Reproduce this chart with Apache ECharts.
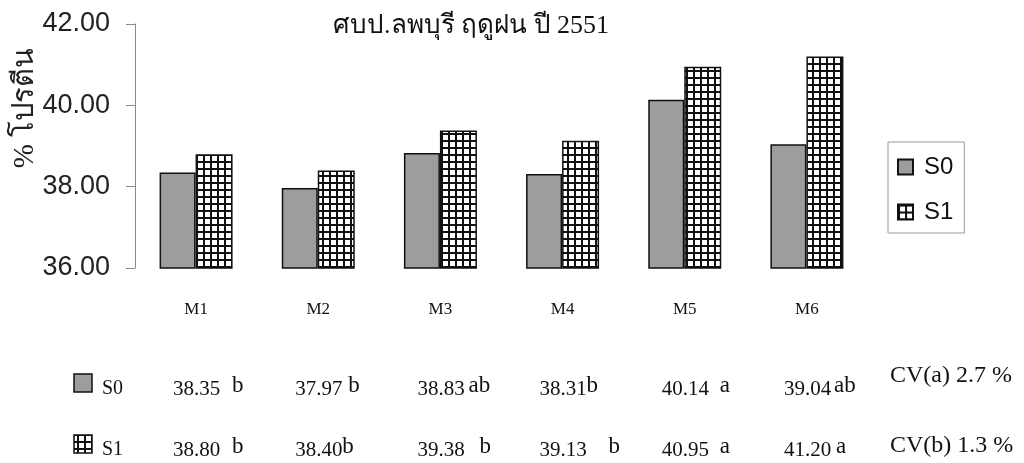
<!DOCTYPE html>
<html>
<head>
<meta charset="utf-8">
<script src="https://cdn.jsdelivr.net/npm/echarts@6/dist/echarts.min.js"></script>
<style>
html,body{margin:0;padding:0;background:#fff;}
#c{width:1024px;height:463px;}
</style>
</head>
<body>
<div id="c"></div>
<script>
const categories = ['M1','M2','M3','M4','M5','M6'];
const s0Values = [38.35, 37.97, 38.83, 38.31, 40.14, 39.04];
const s1Values = [38.80, 38.40, 39.38, 39.13, 40.95, 41.20];
const s0Sig = ['b','b','ab','b','a','ab'];
const s1Sig = ['b','b','b','b','a','a'];
const seriesNames = ['S0','S1'];
const cvLabels = ['CV(a) 2.7 %', 'CV(b) 1.3 %'];
const yTicks = [36, 38, 40, 42];
const titleText = 'ศบป.ลพบุรี ฤดูฝน ปี 2551';
const yName = '% โปรตีน';

// layout only: horizontal offsets of significance letters from category centre
const sigOffsets = [[36, 30, 28, 24, 35, 27], [36, 24, 39, 46, 35, 29]];

// grid pattern for S1
const pc = document.createElement('canvas');
pc.width = 7; pc.height = 7;
const pctx = pc.getContext('2d');
pctx.fillStyle = '#ffffff'; pctx.fillRect(0,0,7,7);
pctx.fillStyle = '#111111';
pctx.fillRect(0,0,7,2);
pctx.fillRect(0,0,2,7);
const gridPattern = {image: pc, repeat: 'repeat'};
const grayFill = '#9d9d9d';

const chart = echarts.init(document.getElementById('c'), null, {renderer:'canvas'});
const serif = '"Liberation Serif", "Times New Roman", serif';
const sans = '"Liberation Sans", Arial, sans-serif';

const option = {
  animation: false,
  backgroundColor: '#fff',
  title: {
    text: titleText, left: 466, top: 8, textAlign: 'center',
    textStyle: {fontFamily: serif, fontSize: 26, fontWeight: 'normal', color: '#111'}
  },
  legend: {
    orient: 'vertical', left: 888, top: 142,
    icon: 'rect',
    itemWidth: 15, itemHeight: 15, itemGap: 21,
    padding: [13, 11, 9, 9],
    borderColor: '#999', borderWidth: 1,
    textStyle: {fontFamily: sans, fontSize: 24, color: '#111', lineHeight: 24, padding: [0, 0, 0, 6]},
    data: seriesNames
  },
  grid: {left: 135, right: 156, top: 24, bottom: 195, containLabel: false},
  xAxis: {
    type: 'category', data: categories,
    axisLine: {show: false}, axisTick: {show: false},
    axisLabel: {margin: 33, fontFamily: serif, fontSize: 17, color: '#111'}
  },
  yAxis: {
    type: 'value', min: yTicks[0], max: yTicks[yTicks.length-1], interval: 2,
    axisLine: {show: true, lineStyle: {color: '#8a8a8a', width: 1}},
    axisTick: {show: true, length: 9, lineStyle: {color: '#8a8a8a'}},
    splitLine: {show: false},
    axisLabel: {margin: 25, fontFamily: sans, fontSize: 27, color: '#222', formatter: v => v.toFixed(2)}
  },
  series: [
    {name: seriesNames[0], type: 'bar', data: s0Values, barWidth: 36, barGap: '0%',
     itemStyle: {color: grayFill, borderColor: '#111', borderWidth: 1.5}},
    {name: seriesNames[1], type: 'bar', data: s1Values, barWidth: 37,
     itemStyle: {color: gridPattern, borderColor: '#111', borderWidth: 1.5}}
  ]
};
chart.setOption(option);

const rowY = [389, 450];
const cvY = [376, 446];
const graphics = [];
graphics.push({type:'text', x: 25, y: 108, rotation: Math.PI/2,
  style:{text: yName, font: '29px ' + serif, fill:'#222', textAlign:'center', textVerticalAlign:'middle'}});
const rows = [[s0Values, s0Sig], [s1Values, s1Sig]];
rows.forEach((r, ri) => {
  const y = rowY[ri];
  graphics.push({type:'rect', shape:{x:74, y:y-15, width:18, height:18},
    style:{fill: ri===0 ? grayFill : gridPattern, stroke:'#111', lineWidth:1.5}});
  graphics.push({type:'text', x: 102, y: y,
    style:{text: seriesNames[ri], font: '20px ' + serif, fill:'#111', textVerticalAlign:'middle'}});
  categories.forEach((c, i) => {
    const px = chart.convertToPixel({xAxisIndex:0}, c);
    graphics.push({type:'text', x: px - 23, y: y,
      style:{text: r[0][i].toFixed(2), font: '21px ' + serif, fill:'#111', textVerticalAlign:'middle'}});
    graphics.push({type:'text', x: px + sigOffsets[ri][i], y: y - 3,
      style:{text: r[1][i], font: '23px ' + serif, fill:'#111', textVerticalAlign:'middle'}});
  });
  graphics.push({type:'text', x: 890, y: cvY[ri],
    style:{text: cvLabels[ri], font: '24px ' + serif, fill:'#111', textVerticalAlign:'middle'}});
});
chart.setOption({graphic: graphics});
</script>
</body>
</html>
